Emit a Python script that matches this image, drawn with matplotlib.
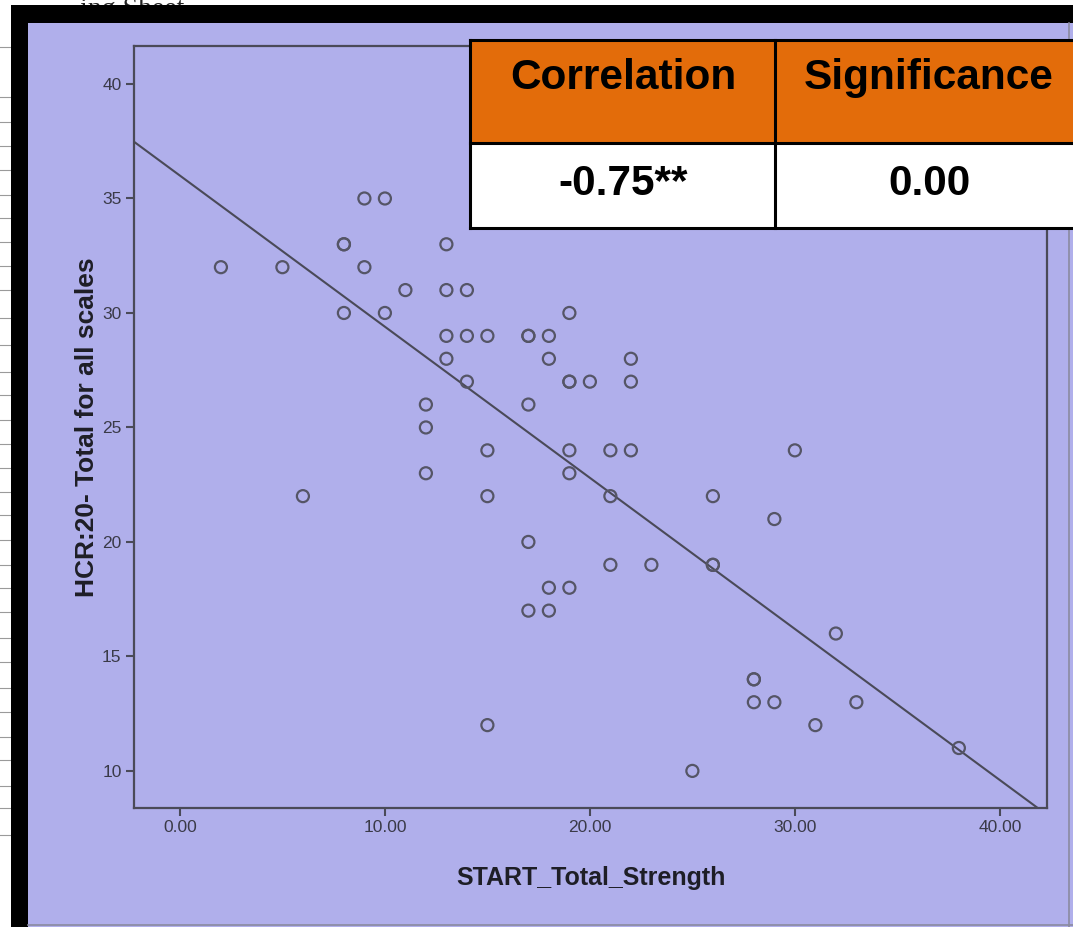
import matplotlib
matplotlib.use("Agg")
import matplotlib.pyplot as plt
from matplotlib.patches import Rectangle
from matplotlib.lines import Line2D

# ---------------- data ----------------
start_total_strength = [2, 5, 6, 8, 8, 8, 9, 9, 10, 10, 11, 12, 12, 12,
                        13, 13, 13, 13, 14, 14, 14, 15, 15, 15, 15,
                        17, 17, 17, 17, 17, 18, 18, 18, 18,
                        19, 19, 19, 19, 19, 19, 20, 21, 21, 21,
                        22, 22, 22, 23, 25, 26, 26, 26, 28, 28, 28,
                        29, 29, 30, 31, 32, 33, 38]
hcr20_total = [32, 32, 22, 33, 33, 30, 35, 32, 35, 30, 31, 26, 25, 23,
               33, 31, 29, 28, 31, 29, 27, 29, 24, 22, 12,
               29, 29, 26, 20, 17, 29, 28, 18, 17,
               30, 27, 27, 24, 23, 18, 27, 24, 22, 19,
               28, 27, 24, 19, 10, 22, 19, 19, 14, 14, 13,
               13, 21, 24, 12, 16, 13, 11]
fit_intercept = 36.0
fit_slope = -0.66

x_ticks = [0, 10, 20, 30, 40]
x_tick_labels = ["0.00", "10.00", "20.00", "30.00", "40.00"]
y_ticks = [10, 15, 20, 25, 30, 35, 40]
y_tick_labels = ["10", "15", "20", "25", "30", "35", "40"]
x_label = "START_Total_Strength"
y_label = "HCR:20- Total for all scales"

table_header = ["Correlation", "Significance"]
table_values = ["-0.75**", "0.00"]

page_title_fragment = "ing Sheet"

# ---------------- style ----------------
W, H = 1073, 927
LAV = "#B0AFEB"
ORANGE = "#E36C0A"
DARK = "#4A4A58"
plt.rcParams["font.family"] = ["Liberation Sans", "DejaVu Sans"]

fig = plt.figure(figsize=(W / 100, H / 100), dpi=100, facecolor=LAV)


def px_rect(x0, y0, x1, y1, **kw):
    """rectangle in pixel coords (origin top-left)"""
    r = Rectangle((x0 / W, 1 - y1 / H), (x1 - x0) / W, (y1 - y0) / H,
                  transform=fig.transFigure, **kw)
    fig.add_artist(r)
    return r


def px_line(x0, y0, x1, y1, **kw):
    l = Line2D([x0 / W, x1 / W], [1 - y0 / H, 1 - y1 / H],
               transform=fig.transFigure, **kw)
    fig.add_artist(l)


# screenshot surroundings: white spreadsheet strip, black frame
px_rect(0, 0, W, 6, facecolor="white", edgecolor="none", zorder=0.5)
px_rect(0, 0, 11, H, facecolor="white", edgecolor="none", zorder=0.5)
for yy in [47, 97, 122, 146, 170, 195, 218, 242, 266, 290, 318, 345, 372, 395,
           420, 444, 468, 492, 515, 540, 565, 588, 612, 638, 662, 688, 712,
           737, 760, 786, 808, 835]:
    px_line(0, yy, 11, yy, color="#9A9A9A", lw=0.8, zorder=0.6)
fig.text(80 / W, 1 - 16 / H, page_title_fragment, family="Liberation Serif",
         fontsize=20, color="#222222", ha="left", va="baseline", zorder=0.7)
px_rect(11, 5, W, 23, facecolor="black", edgecolor="none", zorder=1)
px_rect(11, 5, 28, H, facecolor="black", edgecolor="none", zorder=1)
px_line(28, 925, W, 925, color="#8A8AA0", lw=1.2, zorder=1)
px_line(1069, 23, 1069, H, color="#8A8AA0", lw=1.2, zorder=1)

# ---------------- axes ----------------
ax = fig.add_axes([134 / W, 1 - 808 / H, (1047 - 134) / W, (808 - 46) / H])
ax.set_facecolor(LAV)
ax.set_xlim(-2.24, 42.3)
ax.set_ylim(8.38, 41.66)

ax.scatter(start_total_strength, hcr20_total, s=75, facecolors="none",
           edgecolors="#555566", linewidths=1.6, zorder=3)

xl = ax.get_xlim()
ax.plot(xl, [fit_intercept + fit_slope * v for v in xl], color=DARK,
        lw=1.5, zorder=2)

for sp in ax.spines.values():
    sp.set_color(DARK)
    sp.set_linewidth(1.6)

ax.set_xticks(x_ticks)
ax.set_xticklabels(x_tick_labels)
ax.set_yticks(y_ticks)
ax.set_yticklabels(y_tick_labels)
ax.tick_params(direction="out", length=6, width=1.5, color=DARK,
               labelsize=12.5, labelcolor="#3A3A48", pad=3)

ax.set_xlabel(x_label, fontsize=18, fontweight="bold", color="#1E1E26",
              labelpad=22)
ax.set_ylabel(y_label, fontsize=19, fontweight="bold", color="#1E1E26",
              labelpad=2)

# ---------------- correlation table ----------------
tx0, tx_mid, tx1 = 470, 775, 1085
ty0, ty_mid, ty1 = 40, 143, 228
px_rect(tx0, ty0, tx1, ty_mid, facecolor=ORANGE, edgecolor="none", zorder=5)
px_rect(tx0, ty_mid, tx1, ty1, facecolor="white", edgecolor="none", zorder=5)
for (a, b, c, d) in [(tx0, ty0, tx1, ty0), (tx0, ty_mid, tx1, ty_mid),
                     (tx0, ty1, tx1, ty1), (tx0, ty0, tx0, ty1),
                     (tx_mid, ty0, tx_mid, ty1)]:
    px_line(a, b, c, d, color="black", lw=2.2, zorder=6,
            solid_capstyle="projecting")

col_centers = [(tx0 + tx_mid) / 2 + 1, (tx_mid + 1073) / 2 + 5]
for cx, head, val in zip(col_centers, table_header, table_values):
    fig.text(cx / W, 1 - 78 / H, head, fontsize=30.5,
             fontweight="bold", ha="center", va="center", color="black",
             zorder=7)
    fig.text(cx / W, 1 - 184 / H, val, fontsize=30.5,
             fontweight="bold", ha="center", va="center", color="black",
             zorder=7)

fig.savefig("out.png", dpi=100, facecolor=LAV)
